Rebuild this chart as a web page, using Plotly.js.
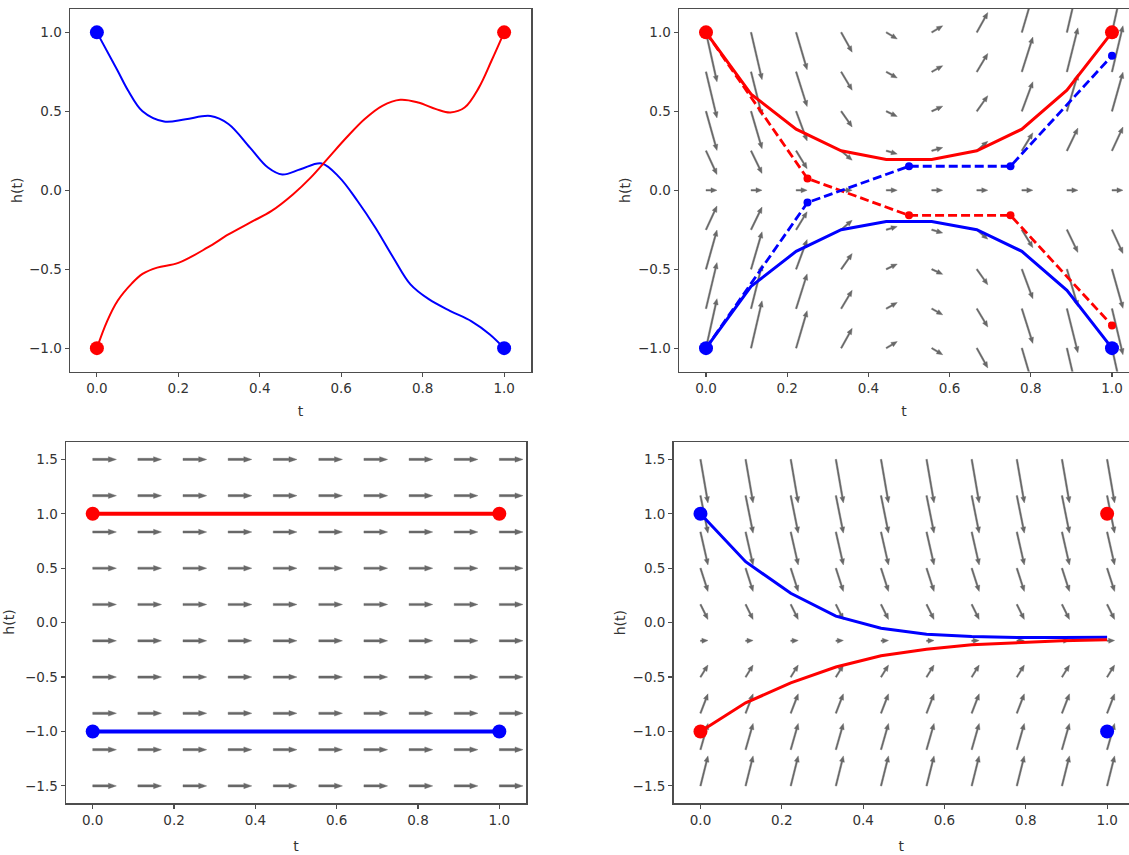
<!DOCTYPE html>
<html>
<head>
<meta charset="utf-8">
<script src="https://cdn.plot.ly/plotly-3.0.1.min.js"></script>
<style>
html,body{margin:0;padding:0;background:#ffffff;}
#chart{width:1129px;height:855px;}
</style>
</head>
<body>
<div id="chart"></div>
<script>
// ---------------- data ----------------
// Panel 1 (top-left): two smooth trajectories
const t1Blue = [0, 0.051, 0.077, 0.112, 0.165, 0.218, 0.279, 0.323, 0.376, 0.42, 0.455, 0.5, 0.552, 0.596, 0.64, 0.684, 0.728, 0.77, 0.815, 0.868, 0.92, 0.965, 1.0];
const h1Blue = [1.0, 0.757, 0.63, 0.50, 0.435, 0.45, 0.47, 0.42, 0.27, 0.144, 0.10, 0.133, 0.17, 0.08, -0.068, -0.237, -0.427, -0.596, -0.69, -0.765, -0.83, -0.913, -1.0];
const t1Red = [0, 0.025, 0.051, 0.086, 0.112, 0.148, 0.2, 0.271, 0.323, 0.376, 0.429, 0.482, 0.525, 0.569, 0.613, 0.657, 0.701, 0.745, 0.789, 0.833, 0.868, 0.903, 0.938, 0.969, 1.0];
const h1Red = [-1.0, -0.83, -0.70, -0.59, -0.53, -0.49, -0.46, -0.364, -0.28, -0.205, -0.131, -0.025, 0.08, 0.207, 0.334, 0.45, 0.535, 0.573, 0.556, 0.514, 0.493, 0.524, 0.65, 0.82, 1.0];

// Endpoint dots (shared by panels)
const blueDotT = [0, 1];
const blueDotH = [1, -1];
const redDotT = [0, 1];
const redDotH = [-1, 1];
const blueDotH2 = [-1, -1];
const redDotH2 = [1, 1];

// Panel 2 (top-right)
const t2Solid = [0, 0.111, 0.222, 0.333, 0.444, 0.556, 0.667, 0.778, 0.889, 1.0];
const h2RedSolid = [1.0, 0.609, 0.387, 0.25, 0.195, 0.195, 0.25, 0.387, 0.634, 1.0];
const h2BlueSolid = [-1.0, -0.609, -0.387, -0.25, -0.198, -0.198, -0.25, -0.387, -0.634, -1.0];
const t2Dash = [0, 0.25, 0.5, 0.75, 1.0];
const h2RedDash = [1.0, 0.074, -0.159, -0.159, -0.856];
const h2BlueDash = [-1.0, -0.078, 0.152, 0.152, 0.852];
const t2Grid = [0, 0.111, 0.222, 0.333, 0.444, 0.556, 0.667, 0.778, 0.889, 1.0];
const h2Grid = [-1.0, -0.75, -0.5, -0.25, 0, 0.25, 0.5, 0.75, 1.0];
const u2 = [
  [1,1,1,1,1,1,1,1,1,1],[1,1,1,1,1,1,1,1,1,1],[1,1,1,1,1,1,1,1,1,1],
  [1,1,1,1,1,1,1,1,1,1],[1,1,1,1,1,1,1,1,1,1],[1,1,1,1,1,1,1,1,1,1],
  [1,1,1,1,1,1,1,1,1,1],[1,1,1,1,1,1,1,1,1,1],[1,1,1,1,1,1,1,1,1,1]
];
const v2 = [
  [ 4.5,  4.3,  3.4,  1.8,  0.6, -0.6, -1.8, -3.4, -4.3, -4.5 ],
  [ 4.19, 4.0,  3.16, 1.67, 0.56,-0.56,-1.67,-3.16,-4.0, -4.19],
  [ 3.56, 3.4,  2.69, 1.42, 0.47,-0.47,-1.42,-2.69,-3.4, -3.56],
  [ 2.16, 2.06, 1.63, 0.86, 0.29,-0.29,-0.86,-1.63,-2.06,-2.16],
  [ 0,    0,    0,    0,    0,    0,    0,    0,    0,    0   ],
  [-2.16,-2.06,-1.63,-0.86,-0.29, 0.29, 0.86, 1.63, 2.06, 2.16],
  [-3.56,-3.4, -2.69,-1.42,-0.47, 0.47, 1.42, 2.69, 3.4,  3.56],
  [-4.19,-4.0, -3.16,-1.67,-0.56, 0.56, 1.67, 3.16, 4.0,  4.19],
  [-4.5, -4.3, -3.4, -1.8, -0.6,  0.6,  1.8,  3.4,  4.3,  4.5 ]
];

// Panel 3 (bottom-left)
const t3Line = [0, 1];
const h3Red = [1, 1];
const h3Blue = [-1, -1];
const t3Grid = [0, 0.111, 0.222, 0.333, 0.444, 0.556, 0.667, 0.778, 0.889, 1.0];
const h3Grid = [-1.5, -1.167, -0.833, -0.5, -0.167, 0.167, 0.5, 0.833, 1.167, 1.5];
const u3Row = [1, 1, 1, 1, 1, 1, 1, 1, 1, 1];
const v3Row = [0, 0, 0, 0, 0, 0, 0, 0, 0, 0];

// Panel 4 (bottom-right)
const t4Line = [0, 0.111, 0.222, 0.333, 0.444, 0.556, 0.667, 0.778, 0.889, 1.0];
const h4Blue = [1.0, 0.56, 0.27, 0.06, -0.052, -0.107, -0.128, -0.137, -0.137, -0.134];
const h4Red = [-1.0, -0.737, -0.554, -0.408, -0.304, -0.244, -0.204, -0.183, -0.167, -0.158];
const t4Grid = [0, 0.111, 0.222, 0.333, 0.444, 0.556, 0.667, 0.778, 0.889, 1.0];
const h4Grid = [-1.5, -1.167, -0.833, -0.5, -0.167, 0.167, 0.5, 0.833, 1.167, 1.5];
const u4Row = [1, 1, 1, 1, 1, 1, 1, 1, 1, 1];
const v4Row = [4.0, 3.5, 2.6, 1.6, 0.05, -2.0, -3.1, -4.4, -5.0, -5.8];

// ---------------- layout geometry ----------------
const W = 1129, H = 855;
const dom = {
  x1: [70 / W, 531 / W],    y1: [1 - 371.5 / H, 1 - 9 / H],
  x2: [679 / W, 1],         y2: [1 - 371.5 / H, 1 - 9 / H],
  x3: [66 / W, 526 / W],    y3: [1 - 803.3 / H, 1 - 442 / H],
  x4: [673.6 / W, 1],       y4: [1 - 803.3 / H, 1 - 442 / H]
};
const rng = {
  x1: [-0.066, 1.066],   y1: [-1.148, 1.148],
  x2: [-0.0665, 1.0419], y2: [-1.148, 1.148],
  x3: [-0.0657, 1.0656], y3: [-1.66, 1.66],
  x4: [-0.0661, 1.0538], y4: [-1.66, 1.66]
};
function ppu(d, r, size) { return (d[1] - d[0]) * size / (r[1] - r[0]); }

const ARROW = '#686868';
function quiver(k, tCols, hRows, getU, getV, s, g) {
  const px = ppu(dom['x' + k], rng['x' + k], W);
  const py = ppu(dom['y' + k], rng['y' + k], H);
  const xs = [], ys = [];
  for (let r = 0; r < hRows.length; r++) {
    for (let c = 0; c < tCols.length; c++) {
      const dx = s * getU(r, c), dy = s * getV(r, c);
      const L = Math.hypot(dx, dy);
      if (L < 1e-6) continue;
      let hl = g.hl, hw = g.hw, sw = g.sw;
      if (L < hl) { const f = L / hl; hl = L; hw *= f; sw *= f; }
      const ex = dx / L, ey = dy / L, nx = -ey, ny = ex, b = L - hl;
      const pts = [
        [nx * sw / 2, ny * sw / 2],
        [ex * b + nx * sw / 2, ey * b + ny * sw / 2],
        [ex * b + nx * hw / 2, ey * b + ny * hw / 2],
        [ex * L, ey * L],
        [ex * b - nx * hw / 2, ey * b - ny * hw / 2],
        [ex * b - nx * sw / 2, ey * b - ny * sw / 2],
        [-nx * sw / 2, -ny * sw / 2],
        [nx * sw / 2, ny * sw / 2]
      ];
      pts.forEach(p => { xs.push(tCols[c] + p[0] / px); ys.push(hRows[r] + p[1] / py); });
      xs.push(null); ys.push(null);
    }
  }
  return {
    type: 'scatter', mode: 'lines', x: xs, y: ys, fill: 'toself',
    fillcolor: ARROW, line: { width: 0.4, color: ARROW },
    xaxis: k === 1 ? 'x' : 'x' + k, yaxis: k === 1 ? 'y' : 'y' + k,
    hoverinfo: 'skip', showlegend: false
  };
}

function line(k, x, y, color, width, dash) {
  return {
    type: 'scatter', mode: 'lines', x: x, y: y,
    line: { color: color, width: width, dash: dash || 'solid' },
    xaxis: k === 1 ? 'x' : 'x' + k, yaxis: k === 1 ? 'y' : 'y' + k,
    hoverinfo: 'skip', showlegend: false
  };
}
function spline(k, x, y, color, width) {
  const tr = line(k, x, y, color, width);
  tr.line.shape = 'spline'; tr.line.smoothing = 1.0;
  return tr;
}
function dots(k, x, y, color, size) {
  return {
    type: 'scatter', mode: 'markers', x: x, y: y,
    marker: { color: color, size: size, line: { width: 0 } },
    xaxis: k === 1 ? 'x' : 'x' + k, yaxis: k === 1 ? 'y' : 'y' + k,
    hoverinfo: 'skip', showlegend: false, cliponaxis: false
  };
}
function dashed(k, x, y, color) {
  return {
    type: 'scatter', mode: 'lines+markers', x: x, y: y,
    line: { color: color, width: 2.8, dash: '9px,4px' },
    marker: { color: color, size: 8 },
    xaxis: k === 1 ? 'x' : 'x' + k, yaxis: k === 1 ? 'y' : 'y' + k,
    hoverinfo: 'skip', showlegend: false
  };
}

const RED = '#ff0000', BLUE = '#0000ff';

const traces = [
  // panel 1
  spline(1, t1Blue, h1Blue, BLUE, 2),
  spline(1, t1Red, h1Red, RED, 2),
  dots(1, blueDotT, blueDotH, BLUE, 14),
  dots(1, redDotT, redDotH, RED, 14),
  // panel 2
  quiver(2, t2Grid, h2Grid, (r, c) => u2[r][c], (r, c) => v2[r][c], 11, { sw: 1.6, hw: 5, hl: 6 }),
  line(2, t2Solid, h2RedSolid, RED, 3),
  line(2, t2Solid, h2BlueSolid, BLUE, 3),
  dashed(2, t2Dash, h2RedDash, RED),
  dashed(2, t2Dash, h2BlueDash, BLUE),
  dots(2, redDotT, redDotH2, RED, 14),
  dots(2, blueDotT, blueDotH2, BLUE, 14),
  // panel 3
  quiver(3, t3Grid, h3Grid, (r, c) => u3Row[r], (r, c) => v3Row[r], 23.7, { sw: 2.2, hw: 5.5, hl: 8 }),
  line(3, t3Line, h3Red, RED, 4),
  line(3, t3Line, h3Blue, BLUE, 4),
  dots(3, t3Line, h3Red, RED, 14),
  dots(3, t3Line, h3Blue, BLUE, 14),
  // panel 4
  quiver(4, t4Grid, h4Grid, (r, c) => u4Row[r], (r, c) => v4Row[r], 7.5, { sw: 1.6, hw: 5, hl: 6 }),
  line(4, t4Line, h4Blue, BLUE, 3),
  line(4, t4Line, h4Red, RED, 3),
  dots(4, blueDotT, blueDotH, BLUE, 14),
  dots(4, redDotT, redDotH, RED, 14)
];

const FONT = 'DejaVu Sans, sans-serif';
const FRAME = '#4d4d4d';
const TITLEFONT = { family: FONT, size: 14, color: '#333333' };
function xax(k, mirror, standoff) {
  return {
    domain: dom['x' + k], range: rng['x' + k], anchor: k === 1 ? 'y' : 'y' + k,
    showgrid: false, zeroline: false, showline: true, linecolor: FRAME, linewidth: 1.5, mirror: mirror,
    ticks: 'outside', ticklen: 4, tickwidth: 1.2, tickcolor: FRAME,
    tick0: 0, dtick: 0.2, tickformat: '.1f',
    tickfont: { family: FONT, size: 13.5, color: '#333333' },
    title: { text: 't', font: TITLEFONT, standoff: standoff },
    fixedrange: true
  };
}
function yax(k, mirror, dtick, tick0, standoff, titleText) {
  return {
    domain: dom['y' + k], range: rng['y' + k], anchor: k === 1 ? 'x' : 'x' + k,
    showgrid: false, zeroline: false, showline: true, linecolor: FRAME, linewidth: 1.5, mirror: mirror,
    ticks: 'outside', ticklen: 4, tickwidth: 1.2, tickcolor: FRAME,
    tick0: tick0, dtick: dtick, tickformat: '.1f',
    tickfont: { family: FONT, size: 13.5, color: '#333333' },
    title: { text: titleText, font: TITLEFONT, standoff: standoff },
    fixedrange: true
  };
}

const layout = {
  width: W, height: H,
  margin: { l: 0, r: 0, t: 0, b: 0, pad: 0 },
  paper_bgcolor: '#ffffff', plot_bgcolor: '#ffffff',
  showlegend: false,
  font: { family: FONT, color: '#333333' },
  xaxis: xax(1, true, 11), yaxis: yax(1, true, 0.5, 0, 3, 'h(t)'),
  xaxis2: xax(2, true, 11), yaxis2: yax(2, false, 0.5, 0, 4, 'h(t)'),
  xaxis3: xax(3, true, 14), yaxis3: yax(3, true, 0.5, 0, 23, ''),
  xaxis4: xax(4, true, 14), yaxis4: yax(4, false, 0.5, 0, 3, 'h(t)'),
  annotations: [{
    // y-axis title of the bottom-left panel, placed at the far left edge
    text: 'h(t)', textangle: -90, font: TITLEFONT, showarrow: false,
    xref: 'paper', yref: 'paper', x: 9 / W, xanchor: 'center',
    y: (dom.y3[0] + dom.y3[1]) / 2, yanchor: 'middle'
  }]
};

Plotly.newPlot('chart', traces, layout, { staticPlot: true, displayModeBar: false });
</script>
</body>
</html>
